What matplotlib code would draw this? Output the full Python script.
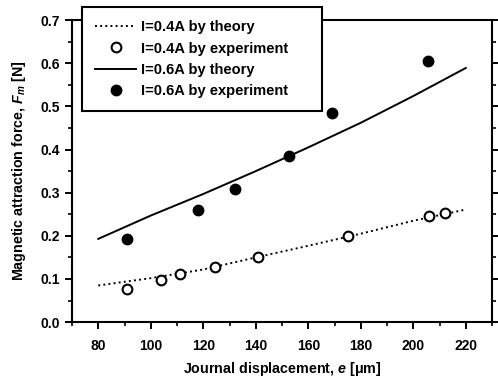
import matplotlib.pyplot as plt
from matplotlib.ticker import MultipleLocator

plt.rcParams['font.family'] = ['Liberation Sans', 'DejaVu Sans']
plt.rcParams['font.weight'] = 'bold'
plt.rcParams['axes.labelweight'] = 'bold'
plt.rcParams['mathtext.fontset'] = 'custom'
plt.rcParams['mathtext.it'] = 'Liberation Sans:italic:bold'
plt.rcParams['mathtext.rm'] = 'Liberation Sans:bold'

# theory curves
theory_x = [80, 100, 120, 140, 160, 180, 200, 220]
theory_04 = [0.085, 0.102, 0.122, 0.150, 0.177, 0.205, 0.235, 0.261]
theory_06 = [0.193, 0.247, 0.297, 0.350, 0.405, 0.462, 0.524, 0.589]

# experiment points
exp04_x = [91, 104, 111, 124.5, 141, 175, 206, 212]
exp04_y = [0.076, 0.097, 0.111, 0.128, 0.151, 0.200, 0.247, 0.253]
exp06_x = [91, 118, 132, 152.5, 169, 205.5]
exp06_y = [0.192, 0.259, 0.309, 0.386, 0.485, 0.605]

fig = plt.figure(figsize=(4.98, 3.79), dpi=100)
ax = fig.add_axes([0.1446, 0.150, 0.8434, 0.797])

ax.plot(theory_x, theory_04, ls=':', color='black', lw=1.4, label='I=0.4A by theory')
ax.plot(exp04_x, exp04_y, 'o', mfc='white', mec='black', mew=1.5, ms=7,
        ls='none', label='I=0.4A by experiment')
ax.plot(theory_x, theory_06, ls='-', color='black', lw=1.4, label='I=0.6A by theory')
ax.plot(exp06_x, exp06_y, 'o', color='black', ms=7.5, ls='none',
        label='I=0.6A by experiment')

ax.set_xlim(70, 230)
ax.set_ylim(0, 0.7)
ax.xaxis.set_major_locator(MultipleLocator(20))
ax.xaxis.set_minor_locator(MultipleLocator(10))
ax.yaxis.set_major_locator(MultipleLocator(0.1))
ax.yaxis.set_minor_locator(MultipleLocator(0.05))
ax.yaxis.set_major_formatter(plt.FormatStrFormatter('%.1f'))

for s in ax.spines.values():
    s.set_linewidth(1.5)
ax.tick_params(which='major', direction='out', length=5, width=1.4, labelsize=10)
ax.tick_params(which='minor', direction='out', length=3, width=1.2)
ax.tick_params(axis='x', which='major', pad=7)
ax.tick_params(axis='y', which='major', pad=4)
ax.tick_params(axis='y', which='both', right=True, labelright=False)

ax.set_xlabel('Journal displacement, $\\mathit{e}$ [\u03bcm]', fontsize=10.3, labelpad=5)
ax.set_ylabel('Magnetic attraction force, $\\mathit{F}_{\\mathit{m}}$ [N]', fontsize=10.3, labelpad=9)

leg = ax.legend(loc='upper left', bbox_to_anchor=(0.024, 0.6, 0.571, 0.443),
                mode='expand', borderaxespad=0,
                fontsize=10.5, frameon=True, fancybox=False, handlelength=2.8,
                handletextpad=0.35, borderpad=0.9, labelspacing=0.5)
leg.get_frame().set_edgecolor('black')
leg.get_frame().set_linewidth(1.5)
leg.get_frame().set_alpha(1)

fig.savefig('out.png', dpi=100)
